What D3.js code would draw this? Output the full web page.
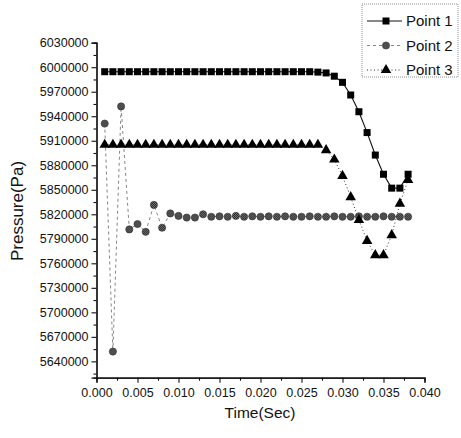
<!DOCTYPE html>
<html>
<head>
<meta charset="utf-8">
<script src="https://cdn.jsdelivr.net/npm/d3@7"></script>
<style>
  body { margin: 0; background: #fff; }
  text { font-family: "Liberation Sans", Arial, sans-serif; fill: #111; }
</style>
</head>
<body>
<div id="chart"></div>
<script>
// time stamps (sec)
var times = [0.001, 0.002, 0.003, 0.004, 0.005, 0.006, 0.007, 0.008, 0.009, 0.010,
             0.011, 0.012, 0.013, 0.014, 0.015, 0.016, 0.017, 0.018, 0.019, 0.020,
             0.021, 0.022, 0.023, 0.024, 0.025, 0.026, 0.027, 0.028, 0.029, 0.030,
             0.031, 0.032, 0.033, 0.034, 0.035, 0.036, 0.037, 0.038]

// pressure (Pa)
var point1 = [5994500, 5994500, 5994500, 5994500, 5994500, 5994500, 5994500, 5994500, 5994500, 5994500,
              5994500, 5994500, 5994500, 5994500, 5994500, 5994500, 5994500, 5994500, 5994500, 5994500,
              5994500, 5994500, 5994500, 5994500, 5994500, 5994500, 5994000, 5993000, 5989000, 5981500,
              5966000, 5945500, 5920000, 5892500, 5869000, 5852000, 5852000, 5869000]
var point2 = [5931000, 5652000, 5952000, 5801500, 5808000, 5798500, 5831500, 5803500, 5821000, 5818000,
              5816000, 5816000, 5820000, 5817000, 5817500, 5817000, 5818000, 5817000, 5817500, 5817000,
              5817500, 5817000, 5817500, 5817000, 5817000, 5817500, 5817000, 5817000, 5817500, 5817000,
              5817000, 5817500, 5817000, 5817000, 5817500, 5817000, 5817000, 5817000]
var point3 = [5905000, 5905000, 5905000, 5905000, 5905000, 5905000, 5905000, 5905000, 5905000, 5905000,
              5905000, 5905000, 5905000, 5905000, 5905000, 5905000, 5905000, 5905000, 5905000, 5905000,
              5905000, 5905000, 5905000, 5905000, 5905000, 5905000, 5905000, 5898500, 5887000, 5867000,
              5841000, 5813000, 5787500, 5770000, 5770000, 5794500, 5833000, 5862000]

var seriesNames = ['Point 1', 'Point 2', 'Point 3']
var xTicks = [0, 0.005, 0.010, 0.015, 0.020, 0.025, 0.030, 0.035, 0.040]
var yTicks = [5640000, 5670000, 5700000, 5730000, 5760000, 5790000, 5820000, 5850000,
              5880000, 5910000, 5940000, 5970000, 6000000, 6030000]

var W = 461, H = 438
var svg = d3.select('#chart').append('svg')
            .attr('width', W)
            .attr('height', H)

// speckled fill for the circle markers
var defs = svg.append('defs')
var pat = defs.append('pattern')
              .attr('id', 'speck')
              .attr('width', 2).attr('height', 2)
              .attr('patternUnits', 'userSpaceOnUse')
pat.append('rect').attr('width', 2).attr('height', 2).attr('fill', '#8a8a8a')
pat.append('rect').attr('width', 1).attr('height', 1).attr('fill', '#111')
pat.append('rect').attr('x', 1).attr('y', 1).attr('width', 1).attr('height', 1).attr('fill', '#111')

var x = d3.scaleLinear().domain([0, 0.040]).range([96.5, 424.5])
var y = d3.scaleLinear().domain([5620000, 6030000]).range([377.7, 42.7])

// axes (major + minor ticks)
var xAxis = d3.axisBottom(x).tickValues(xTicks).tickFormat(d3.format('.3f')).tickSize(5).tickPadding(5)
var xMinor = d3.axisBottom(x).tickValues(d3.range(0.0025, 0.040, 0.005)).tickSize(3).tickFormat('')
var yAxis = d3.axisLeft(y).tickValues(yTicks).tickFormat(d3.format('d')).tickSize(5).tickPadding(3)
var yMinor = d3.axisLeft(y).tickValues(d3.range(5625000, 6030000, 30000)).tickSize(3).tickFormat('')

function styleAxis(g) {
  g.select('.domain').attr('stroke', '#111').attr('stroke-width', 1.2)
  g.selectAll('line').attr('stroke', '#111').attr('stroke-width', 1.1)
  g.selectAll('text').attr('font-size', 12.5).attr('fill', '#111')
    .style('font-family', '"Liberation Sans", Arial, sans-serif')
}

svg.append('g').attr('transform', 'translate(0,' + y.range()[0] + ')').call(xMinor).call(styleAxis)
svg.append('g').attr('transform', 'translate(0,' + y.range()[0] + ')').call(xAxis).call(styleAxis)
svg.append('g').attr('transform', 'translate(' + x.range()[0] + ',0)').call(yMinor).call(styleAxis)
svg.append('g').attr('transform', 'translate(' + x.range()[0] + ',0)').call(yAxis).call(styleAxis)

svg.append('text')
   .attr('x', 260).attr('y', 418)
   .attr('text-anchor', 'middle')
   .attr('font-size', 15.5)
   .text('Time(Sec)')

svg.append('text')
   .attr('transform', 'translate(23,211) rotate(-90)')
   .attr('text-anchor', 'middle')
   .attr('font-size', 17)
   .text('Pressure(Pa)')

var series = [
  { name: seriesNames[0], values: point1, dash: null, width: 1.1, color: '#111', shape: 'square' },
  { name: seriesNames[1], values: point2, dash: '3,3', width: 0.8, color: '#666', shape: 'circle' },
  { name: seriesNames[2], values: point3, dash: '1,2.5', width: 1, color: '#333', shape: 'triangle' }
]

var line = d3.line()
  .x(function (d) { return x(d[0]) })
  .y(function (d) { return y(d[1]) })

function drawMarker(g, shape) {
  if (shape === 'square') {
    g.append('rect').attr('x', -3.5).attr('y', -3.5).attr('width', 7).attr('height', 7).attr('fill', '#000')
  } else if (shape === 'circle') {
    g.append('circle').attr('r', 3.6).attr('fill', 'url(#speck)').attr('stroke', '#333').attr('stroke-width', 0.6)
  } else {
    g.append('path').attr('d', d3.symbol().type(d3.symbolTriangle).size(48)()).attr('fill', '#000')
  }
}

series.forEach(function (s) {
  var pts = times.map(function (t, i) { return [t, s.values[i]] })
  svg.append('path')
     .datum(pts)
     .attr('d', line)
     .attr('fill', 'none')
     .attr('stroke', s.color)
     .attr('stroke-width', s.width)
     .attr('stroke-dasharray', s.dash)
  pts.forEach(function (p) {
    var g = svg.append('g').attr('transform', 'translate(' + x(p[0]) + ',' + y(p[1]) + ')')
    drawMarker(g, s.shape)
  })
})

// legend
var legend = svg.append('g')
legend.append('rect')
      .attr('x', 362).attr('y', 4).attr('width', 96).attr('height', 73)
      .attr('fill', '#fff').attr('stroke', '#777').attr('stroke-width', 0.8)
      .attr('stroke-dasharray', '1,1')
series.forEach(function (s, i) {
  var ly = 21 + i * 24.5
  legend.append('line')
        .attr('x1', 367).attr('x2', 402).attr('y1', ly).attr('y2', ly)
        .attr('stroke', s.color).attr('stroke-width', s.width)
        .attr('stroke-dasharray', s.dash)
  drawMarker(legend.append('g').attr('transform', 'translate(386,' + ly + ')'), s.shape)
  legend.append('text')
        .attr('x', 406).attr('y', ly + 5)
        .attr('font-size', 15)
        .text(s.name)
})
</script>
</body>
</html>
